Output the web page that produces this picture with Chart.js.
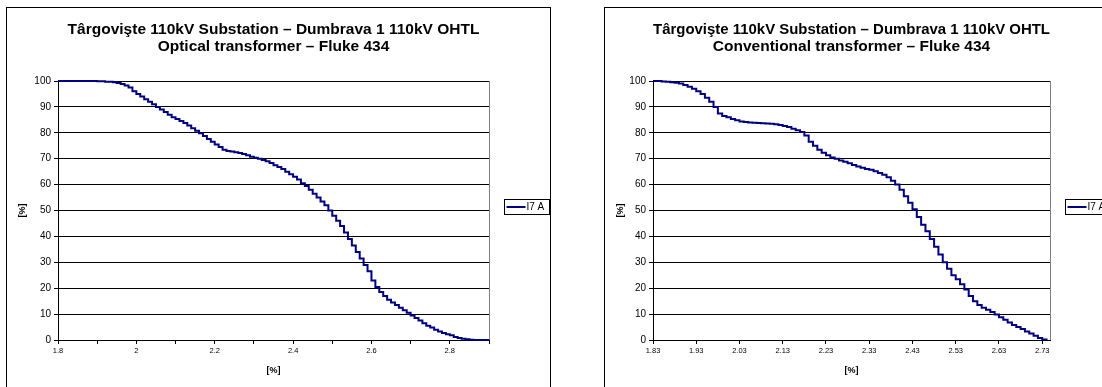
<!DOCTYPE html>
<html>
<head>
<meta charset="utf-8">
<script src="https://cdn.jsdelivr.net/npm/chart.js@4.4.1/dist/chart.umd.min.js"></script>
<style>
  body { margin: 0; background: #fff; width: 1102px; height: 387px; overflow: hidden; position: relative; }
  .frame { position: absolute; top: 7px; width: 545px; height: 420px; border: 1px solid #000; box-sizing: border-box; }
  canvas { position: absolute; top: 0; }
</style>
</head>
<body>
<div class="frame" style="left:6px"></div>
<div class="frame" style="left:604px"></div>
<canvas id="chartOptical" style="left:0" width="560" height="387"></canvas>
<canvas id="chartConventional" style="left:580px" width="522" height="387"></canvas>
<script>
// Târgovişte 110kV Substation – Dumbrava 1 110kV OHTL, I7 A duration curves

var FONT = 'Arial, "Liberation Sans", sans-serif';
var SERIES_LABEL = 'I7 A';

var OPTICAL_TITLE = ['Târgovişte 110kV Substation – Dumbrava 1 110kV OHTL', 'Optical transformer – Fluke 434'];
var CONVENTIONAL_TITLE = ['Târgovişte 110kV Substation – Dumbrava 1 110kV OHTL', 'Conventional transformer – Fluke 434'];

// optical transformer: x [%] and y [%]
var OPTICAL_X = [1.80, 1.89, 1.90, 1.92, 1.94, 1.95, 1.96, 1.97, 1.98, 1.99,
  2.00, 2.01, 2.02, 2.03, 2.04, 2.05, 2.06, 2.07, 2.08, 2.09,
  2.10, 2.11, 2.12, 2.13, 2.14, 2.15, 2.16, 2.17, 2.18, 2.19,
  2.20, 2.21, 2.22, 2.23, 2.24, 2.25, 2.26, 2.27, 2.28, 2.29,
  2.30, 2.31, 2.32, 2.33, 2.34, 2.35, 2.36, 2.37, 2.38, 2.39,
  2.40, 2.41, 2.42, 2.43, 2.44, 2.45, 2.46, 2.47, 2.48, 2.49,
  2.50, 2.51, 2.52, 2.53, 2.54, 2.55, 2.56, 2.57, 2.58, 2.59,
  2.60, 2.61, 2.62, 2.63, 2.64, 2.65, 2.66, 2.67, 2.68, 2.69,
  2.70, 2.71, 2.72, 2.73, 2.74, 2.75, 2.76, 2.77, 2.78, 2.79,
  2.80, 2.81, 2.82, 2.83, 2.84, 2.85, 2.86, 2.90];
var OPTICAL_Y = [100, 100, 99.9, 99.7, 99.5, 99.2, 98.8, 98.3, 97.5, 96,
  95, 94, 93, 92, 91, 90, 89, 88, 87, 86,
  85.3, 84.6, 83.8, 82.8, 81.8, 80.8, 79.8, 78.8, 77.6, 76.5,
  75.5, 74.5, 73.5, 73, 72.8, 72.5, 72.2, 71.8, 71.3, 70.8,
  70.4, 70, 69.5, 69, 68.3, 67.5, 66.8, 66, 65, 64,
  63, 62, 60.5, 59.5, 58, 56.5, 55, 53.5, 52, 50,
  48, 46, 44, 41.5, 39, 36.5, 34, 31.5, 29, 26.5,
  23, 20.5, 18.5, 17, 15.5, 14.5, 13.5, 12.5, 11.5, 10.5,
  9.5, 8.5, 7.5, 6.5, 5.5, 4.8, 4, 3.3, 2.7, 2.2,
  1.8, 1.2, 0.8, 0.5, 0.3, 0.1, 0, 0];

// conventional transformer: x [%] and y [%]
var CONVENTIONAL_X = [1.83, 1.84, 1.85, 1.86, 1.87, 1.88, 1.89,
  1.90, 1.91, 1.92, 1.93, 1.94, 1.95, 1.96, 1.97, 1.98, 1.99,
  2.00, 2.01, 2.02, 2.03, 2.04, 2.05, 2.06, 2.07, 2.08, 2.09,
  2.10, 2.11, 2.12, 2.13, 2.14, 2.15, 2.16, 2.17, 2.18, 2.19,
  2.20, 2.21, 2.22, 2.23, 2.24, 2.25, 2.26, 2.27, 2.28, 2.29,
  2.30, 2.31, 2.32, 2.33, 2.34, 2.35, 2.36, 2.37, 2.38, 2.39,
  2.40, 2.41, 2.42, 2.43, 2.44, 2.45, 2.46, 2.47, 2.48, 2.49,
  2.50, 2.51, 2.52, 2.53, 2.54, 2.55, 2.56, 2.57, 2.58, 2.59,
  2.60, 2.61, 2.62, 2.63, 2.64, 2.65, 2.66, 2.67, 2.68, 2.69,
  2.70, 2.71, 2.72, 2.73, 2.74];
var CONVENTIONAL_Y = [100, 100, 99.8, 99.7, 99.5, 99.3, 99,
  98.5, 97.8, 97, 96, 95, 93.5, 92, 90, 87.5, 86.5,
  86, 85.3, 84.8, 84.4, 84.2, 84, 83.9, 83.8, 83.7, 83.6,
  83.5, 83.3, 83, 82.6, 82.2, 81.6, 81, 80.3, 79, 76.5,
  75, 73.5, 72.3, 71.3, 70.5, 70, 69.3, 68.8, 68.2, 67.6,
  67, 66.5, 66, 65.7, 65.2, 64.5, 63.8, 62.8, 61.5, 60,
  58, 55.5, 53, 50.5, 47.5, 44.5, 42, 39, 36, 33,
  30, 27.5, 25, 23.5, 21.5, 19.5, 17, 15, 13.5, 12.5,
  11.7, 10.8, 9.8, 8.8, 7.8, 6.8, 5.8, 5, 4.2, 3.3,
  2.5, 1.6, 0.8, 0.2, 0];

// axis ticks
var OPTICAL_XTICKS = [1.8, 1.9, 2.0, 2.1, 2.2, 2.3, 2.4, 2.5, 2.6, 2.7, 2.8, 2.9];
var OPTICAL_XLABELS = ['1.8', '', '2', '', '2.2', '', '2.4', '', '2.6', '', '2.8', ''];
var CONVENTIONAL_XTICKS = [1.83, 1.93, 2.03, 2.13, 2.23, 2.33, 2.43, 2.53, 2.63, 2.73];
var CONVENTIONAL_XLABELS = ['1.83', '1.93', '2.03', '2.13', '2.23', '2.33', '2.43', '2.53', '2.63', '2.73'];

function toPoints(xs, ys) {
  return xs.map(function(x, i) { return { x: x, y: ys[i] }; });
}

// plot area right edge (gray) and boxed legend right of the plot
var framePlugin = {
  id: 'excelFrame',
  afterDatasetsDraw: function(chart) {
    var a = chart.chartArea, ctx = chart.ctx;
    ctx.save();
    ctx.strokeStyle = '#808080';
    ctx.lineWidth = 1;
    ctx.beginPath();
    ctx.moveTo(Math.round(a.right) + 0.5, a.top);
    ctx.lineTo(Math.round(a.right) + 0.5, a.bottom);
    ctx.stroke();
    ctx.restore();
  },
  afterDraw: function(chart) {
    var a = chart.chartArea, ctx = chart.ctx;
    var ds = chart.data.datasets[0];
    var bx = Math.round(a.right) + 15.5, by = Math.round((a.top + a.bottom) / 2) - 11.5;
    ctx.save();
    ctx.fillStyle = '#fff';
    ctx.fillRect(bx, by, 45, 15);
    ctx.strokeStyle = '#000';
    ctx.lineWidth = 1;
    ctx.strokeRect(bx, by, 45, 15);
    ctx.strokeStyle = ds.borderColor;
    ctx.lineWidth = 2;
    ctx.beginPath();
    ctx.moveTo(bx + 2, by + 7.5);
    ctx.lineTo(bx + 21, by + 7.5);
    ctx.stroke();
    ctx.fillStyle = '#000';
    ctx.font = '10px ' + FONT;
    ctx.textBaseline = 'middle';
    ctx.fillText(ds.label, bx + 22, by + 8);
    ctx.restore();
  }
};

function makeChart(id, title, xs, ys, xTicks, xLabels, xMin, xMax, pad, yWidth) {
  return new Chart(document.getElementById(id), {
    type: 'line',
    data: {
      datasets: [{
        label: SERIES_LABEL,
        data: toPoints(xs, ys),
        borderColor: '#000080',
        borderWidth: 2,
        pointRadius: 0,
        stepped: true,
        fill: false,
        clip: 3
      }]
    },
    options: {
      responsive: false,
      animation: false,
      devicePixelRatio: 1,
      layout: { padding: pad },
      plugins: {
        legend: { display: false },
        tooltip: { enabled: false },
        title: {
          display: true,
          text: title,
          fullSize: false,
          color: '#000',
          font: { family: FONT, size: 15.5, weight: 'bold', lineHeight: '17px' },
          padding: { top: 21, bottom: 26 }
        }
      },
      scales: {
        x: {
          type: 'linear',
          min: xMin,
          max: xMax,
          afterBuildTicks: function(s) { s.ticks = xTicks.map(function(v) { return { value: v }; }); },
          afterFit: function(s) { s.height = 47; },
          ticks: {
            autoSkip: false, maxRotation: 0, color: '#000', padding: 2,
            font: { family: FONT, size: 7.5 },
            callback: function(v, i) { return xLabels[i]; }
          },
          grid: { drawOnChartArea: false, color: '#000', tickLength: 4 },
          border: { color: '#000' },
          title: {
            display: true, text: '[%]', color: '#000',
            font: { family: FONT, size: 9, weight: 'bold' },
            padding: { top: 0, bottom: 11 }
          }
        },
        y: {
          min: 0,
          max: 100,
          afterFit: function(s) { s.width = yWidth; },
          ticks: { stepSize: 10, color: '#000', padding: 3, font: { family: FONT, size: 10 } },
          grid: { color: '#000', tickLength: 4 },
          border: { color: '#000' },
          title: {
            display: true, text: '[%]', color: '#000',
            font: { family: FONT, size: 9, weight: 'bold' },
            padding: { top: 17, bottom: 0 }
          }
        }
      }
    },
    plugins: [framePlugin]
  });
}

makeChart('chartOptical', OPTICAL_TITLE, OPTICAL_X, OPTICAL_Y,
  OPTICAL_XTICKS, OPTICAL_XLABELS, 1.8, 2.9,
  { left: 0, right: 71, top: 0, bottom: 0 }, 58);

makeChart('chartConventional', CONVENTIONAL_TITLE, CONVENTIONAL_X, CONVENTIONAL_Y,
  CONVENTIONAL_XTICKS, CONVENTIONAL_XLABELS, 1.83, 2.748,
  { left: 18, right: 52, top: 0, bottom: 0 }, 55);
</script>
</body>
</html>
